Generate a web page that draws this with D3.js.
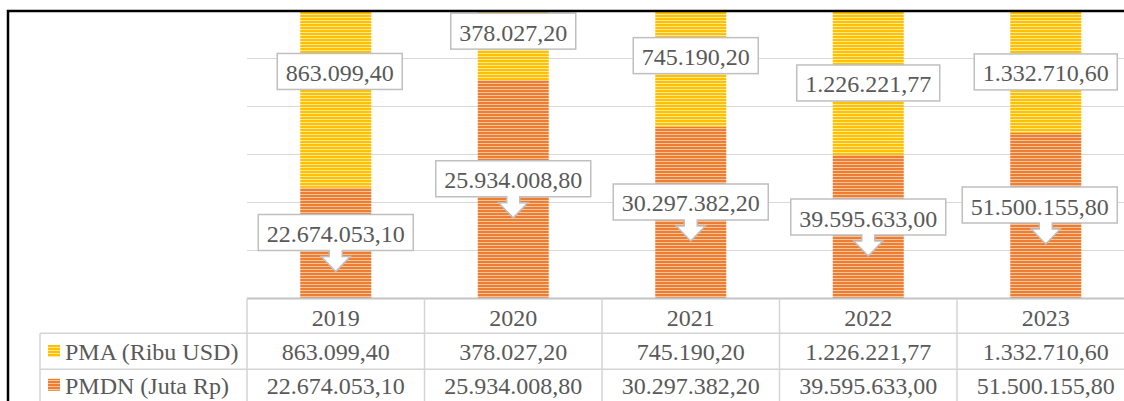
<!DOCTYPE html>
<html><head><meta charset="utf-8">
<script src="https://cdn.jsdelivr.net/npm/d3@7"></script>
<style>html,body{margin:0;padding:0;background:#fff;overflow:hidden}</style>
</head><body>
<svg id="chart" width="1124" height="401"></svg>
<script>
// ---- data ----
const years = ["2019", "2020", "2021", "2022", "2023"];
const seriesNames = ["PMA (Ribu USD)", "PMDN (Juta Rp)"];
const pmaValues = [863099.40, 378027.20, 745190.20, 1226221.77, 1332710.60];
const pmdnValues = [22674053.10, 25934008.80, 30297382.20, 39595633.00, 51500155.80];
// bar segment heights as drawn in the picture (in gridline units)
const pmdnBarHeights = [2.31, 4.55, 3.58, 2.99, 3.45];
const pmaBarHeights = [4.5, 2.5, 3.5, 4.0, 3.5];
// label anchor levels (gridline units)
const pmaLabelLevels = [4.73, 5.57, 5.06, 4.49, 4.72];
const pmdnCalloutTips = [0.56, 1.68, 1.20, 0.885, 1.135];
const pmaLabelShift = [4, 0, 5, 0, 0];
const pmdnLabelShift = [0, 0, 0, 0, -6];

// ---- setup ----
const svg = d3.select("#chart");
const W = 1124, H = 401;
const plotLeft = 247, plotRight = 1134.5, baseY = 298.5, topY = 10.5;
const fontFam = "'Liberation Serif','Times New Roman',serif";
const textCol = "#595959";
const idFmt = d3.formatLocale({decimal: ",", thousands: ".", grouping: [3], currency: ["", ""]}).format(",.2f");

const x = d3.scaleBand().domain(years).range([plotLeft, plotRight]).paddingInner(0.6).paddingOuter(0.3);
const col = d3.scaleBand().domain(years).range([plotLeft, plotRight]).padding(0);
const y = d3.scaleLinear().domain([0, 6]).range([baseY, topY]);

const defs = svg.append("defs");
function stripe(id, base, light) {
  const p = defs.append("pattern").attr("id", id).attr("patternUnits", "userSpaceOnUse")
    .attr("width", 4).attr("height", 3);
  p.append("rect").attr("width", 4).attr("height", 3).attr("fill", base);
  p.append("rect").attr("y", 2).attr("width", 4).attr("height", 1).attr("fill", light);
}
stripe("pYellow", "#FFC000", "#FFE89A");
stripe("pOrange", "#ED7D31", "#F7C4A0");
defs.append("clipPath").attr("id", "plotClip").append("rect")
  .attr("x", plotLeft).attr("y", 12).attr("width", W - plotLeft).attr("height", baseY - 12);

// gridlines
svg.append("g").selectAll("line").data(y.ticks(6).filter(t => t > 0 && t < 6)).join("line")
  .attr("x1", plotLeft).attr("x2", W).attr("y1", d => y(d)).attr("y2", d => y(d))
  .attr("stroke", "#d9d9d9").attr("stroke-width", 1);

// bars
const stackData = years.map((yr, i) => ({year: yr, pmdn: pmdnBarHeights[i], pma: pmaBarHeights[i]}));
const stacked = d3.stack().keys(["pmdn", "pma"])(stackData);
const fills = {pmdn: "url(#pOrange)", pma: "url(#pYellow)"};
svg.append("g").attr("clip-path", "url(#plotClip)")
  .selectAll("g").data(stacked).join("g").attr("fill", d => fills[d.key])
  .selectAll("rect").data(d => d).join("rect")
  .attr("x", d => x(d.data.year)).attr("width", x.bandwidth())
  .attr("y", d => y(d[1])).attr("height", d => y(d[0]) - y(d[1]));

// ---- table ----
const tbl = svg.append("g");
const rowTop = [298.5, 333.3, 369.3, 405.3];
const legendLeft = 40;
const lineCol = "#d4d4d4";
// horizontal lines
tbl.append("line").attr("x1", plotLeft).attr("x2", W).attr("y1", rowTop[0]).attr("y2", rowTop[0])
  .attr("stroke", "#c4c4c4").attr("stroke-width", 2);
[rowTop[1], rowTop[2]].forEach(yy => tbl.append("line").attr("x1", legendLeft).attr("x2", W)
  .attr("y1", yy).attr("y2", yy).attr("stroke", lineCol).attr("stroke-width", 1.5));
// vertical lines
years.forEach(yr => tbl.append("line").attr("x1", col(yr)).attr("x2", col(yr))
  .attr("y1", rowTop[0]).attr("y2", H).attr("stroke", lineCol).attr("stroke-width", 1.5));
tbl.append("line").attr("x1", legendLeft).attr("x2", legendLeft).attr("y1", rowTop[1]).attr("y2", H)
  .attr("stroke", lineCol).attr("stroke-width", 1.5);

const baselines = [325.7, 360, 393.8];
const tText = (sel) => sel.attr("font-family", fontFam).attr("font-size", 24).attr("fill", textCol);
tbl.append("g").selectAll("text").data(years).join("text").call(tText)
  .attr("x", d => col(d) + col.bandwidth() / 2).attr("y", baselines[0]).attr("text-anchor", "middle").text(d => d);
tbl.append("g").selectAll("text").data(pmaValues).join("text").call(tText)
  .attr("x", (d, i) => col(years[i]) + col.bandwidth() / 2).attr("y", baselines[1]).attr("text-anchor", "middle").text(d => idFmt(d));
tbl.append("g").selectAll("text").data(pmdnValues).join("text").call(tText)
  .attr("x", (d, i) => col(years[i]) + col.bandwidth() / 2).attr("y", baselines[2]).attr("text-anchor", "middle").text(d => idFmt(d));
// legend keys
const legFills = ["url(#pYellow)", "url(#pOrange)"];
seriesNames.forEach((nm, i) => {
  tbl.append("rect").attr("x", 48).attr("y", baselines[i + 1] - 15).attr("width", 12).attr("height", 12).attr("fill", legFills[i]);
  tbl.append("text").call(tText).attr("x", 65).attr("y", baselines[i + 1]).text(nm);
});

// ---- labels ----
const lab = svg.append("g");
const boxH = 36, pad = 8.5;
// PMA labels (plain boxes)
pmaValues.forEach((v, i) => {
  const cx = x(years[i]) + x.bandwidth() / 2 + pmaLabelShift[i];
  const cy = y(pmaLabelLevels[i]);
  const g = lab.append("g");
  const r = g.append("rect").attr("fill", "#fff").attr("stroke", "#bfbfbf").attr("stroke-width", 1.5);
  const t = g.append("text").call(tText).attr("x", cx).attr("y", cy + 9.5).attr("text-anchor", "middle").text(idFmt(v));
  const w = t.node().getComputedTextLength() + 2 * pad;
  r.attr("x", cx - w / 2).attr("y", cy - boxH / 2).attr("width", w).attr("height", boxH);
});
// PMDN callouts (box + down arrow)
pmdnValues.forEach((v, i) => {
  const ax = x(years[i]) + x.bandwidth() / 2;
  const cx = ax + pmdnLabelShift[i];
  const tip = y(pmdnCalloutTips[i]);
  const B = tip - 21, T = B - boxH;
  const g = lab.append("g");
  const p = g.append("path").attr("fill", "#fff").attr("stroke", "#bfbfbf").attr("stroke-width", 1.5).attr("stroke-linejoin", "miter");
  const t = g.append("text").call(tText).attr("x", cx).attr("y", (T + B) / 2 + 9.5).attr("text-anchor", "middle").text(idFmt(v));
  const w = t.node().getComputedTextLength() + 2 * pad;
  const L = cx - w / 2, R = cx + w / 2;
  const path = d3.path();
  path.moveTo(L, T); path.lineTo(R, T); path.lineTo(R, B);
  path.lineTo(ax + 6.5, B); path.lineTo(ax + 6.5, B + 6); path.lineTo(ax + 14.5, B + 6);
  path.lineTo(ax, tip); path.lineTo(ax - 14.5, B + 6); path.lineTo(ax - 6.5, B + 6);
  path.lineTo(ax - 6.5, B); path.lineTo(L, B); path.closePath();
  p.attr("d", path.toString());
});

// outer frame (top and left edges of the cropped chart)
svg.append("path").attr("d", `M8,${H} V11 H${W}`).attr("fill", "none").attr("stroke", "#000").attr("stroke-width", 2.5);
</script>
</body></html>
